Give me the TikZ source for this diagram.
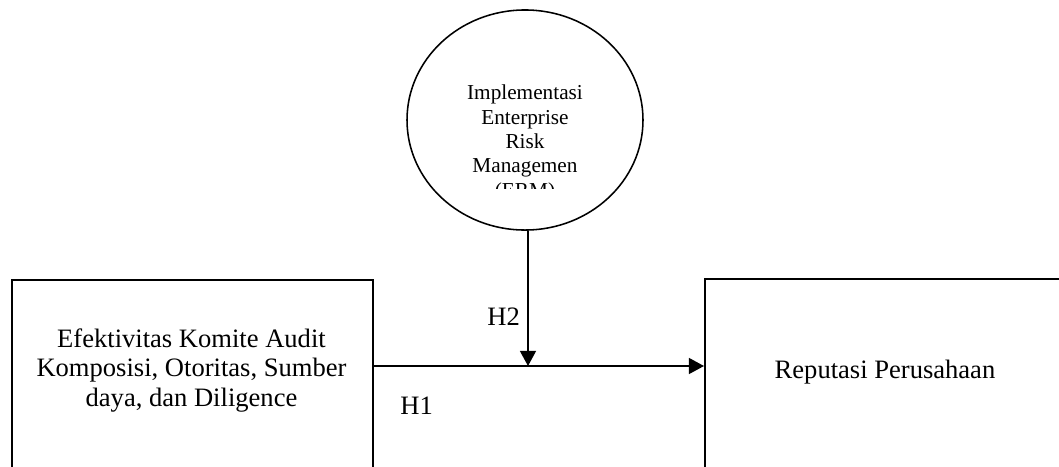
\documentclass[tikz,border=0pt]{standalone}
\usepackage{fontspec}
\setmainfont{Liberation Serif}
\usetikzlibrary{arrows.meta, shapes.geometric}

\tikzset{
	varbox/.style={draw, rectangle, line width=.7pt, anchor=north west, minimum height=120pt},
	vartext/.style={align=center, anchor=north, inner sep=0pt, font=\fontsize{12}{13.3}\selectfont},
	hyp/.style={-{Triangle[length=6.8pt,width=7.2pt]}, line width=.7pt}
}

\begin{document}
\begin{tikzpicture}[x=.4517pt, y=-.4517pt, font=\fontsize{12}{13.3}\selectfont]
	\useasboundingbox (0,0) rectangle (1059,466);
	\clip (0,0) rectangle (1059,466);
	\node[varbox, minimum width=163.1pt] (kom) at (11,279) {};
	\node[vartext] (komtxt) at (191.5,328) {Efektivitas Komite Audit\\Komposisi, Otoritas, Sumber\\daya, dan Diligence};
	\node[varbox, minimum width=180pt] (rep) at (704,278) {};
	\node[vartext] (reptxt) at (885,360) {Reputasi Perusahaan};
	\node[draw, ellipse, line width=.7pt, minimum width=106.6pt, minimum height=99.4pt] (erm) at (525,120) {};
	\begin{scope}
		\clip (430,60) rectangle (620,188);
		\node[vartext, font=\fontsize{9.6}{11}\selectfont] (ermtxt) at (525,84.5) {Implementasi\\Enterprise\\Risk\\Managemen\\(ERM)};
	\end{scope}
	\coordinate (mid) at (528,366);
	\draw[hyp] (kom.north east |- mid) -- (rep.north west |- mid) node[pos=.13, below=10.4pt] {H1};
	\draw[hyp] (erm.south -| mid) -- (mid) node[pos=.635, left] {H2};
\end{tikzpicture}
\end{document}
